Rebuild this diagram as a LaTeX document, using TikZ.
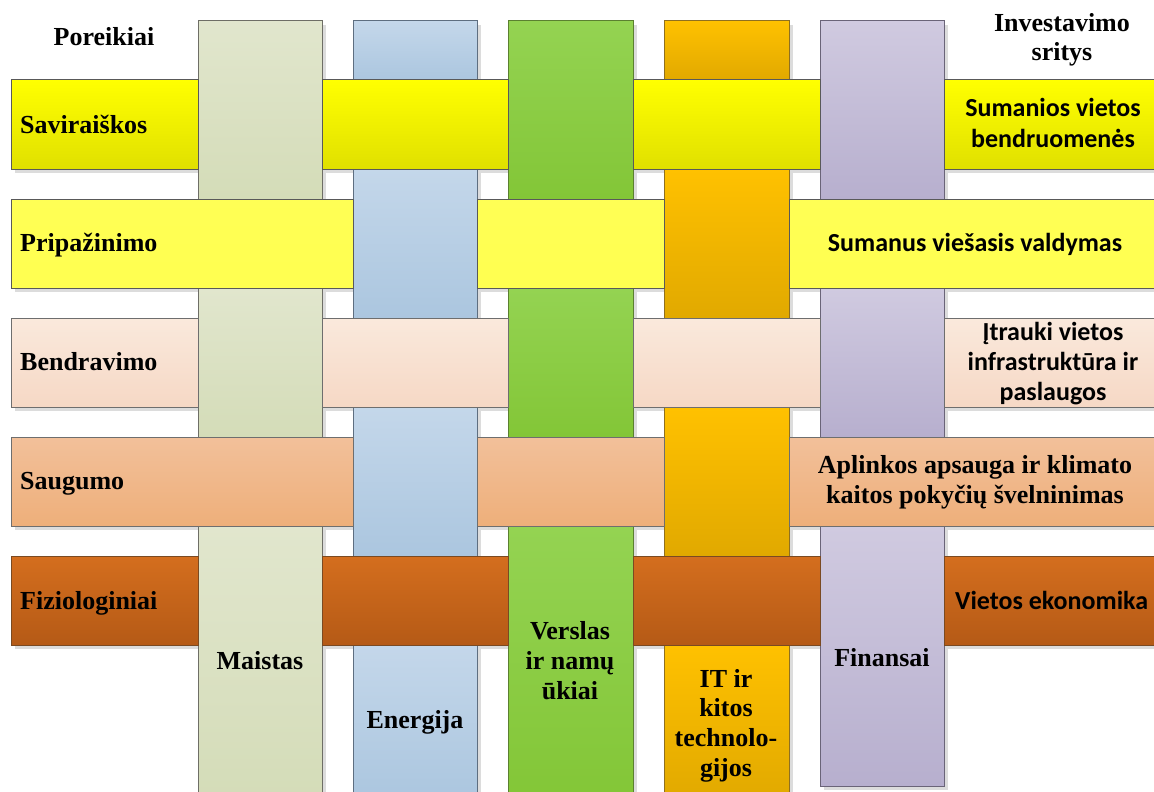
\documentclass[tikz,border=0pt]{standalone}
\usepackage{fontspec}
\setmainfont{Liberation Serif}
\newfontfamily\calibri{Carlito}
% row colours: T=top, D=bottom, B=border
\definecolor{r1T}{HTML}{FFFF00}\definecolor{r1D}{HTML}{E0E000}\definecolor{r1B}{HTML}{595959}
\definecolor{r2T}{HTML}{FFFF55}\definecolor{r2D}{HTML}{FFFF50}\definecolor{r2B}{HTML}{595959}
\definecolor{r3T}{HTML}{FAE9DC}\definecolor{r3D}{HTML}{F6D8C5}\definecolor{r3B}{HTML}{6E6E6E}
\definecolor{r4T}{HTML}{F2C09A}\definecolor{r4D}{HTML}{EEAF7A}\definecolor{r4B}{HTML}{6E6E6E}
\definecolor{r5T}{HTML}{D46E1E}\definecolor{r5D}{HTML}{B55A16}\definecolor{r5B}{HTML}{7A4A22}
% column colours
\definecolor{c1T}{HTML}{E1E6CD}\definecolor{c1D}{HTML}{D4DCB8}\definecolor{c1B}{HTML}{6E6E66}
\definecolor{c2T}{HTML}{C4D7EA}\definecolor{c2D}{HTML}{ABC6DF}\definecolor{c2B}{HTML}{5E6E80}
\definecolor{c3T}{HTML}{94D352}\definecolor{c3D}{HTML}{83C637}\definecolor{c3B}{HTML}{5B8030}
\definecolor{c4T}{HTML}{FFC100}\definecolor{c4D}{HTML}{E1A900}\definecolor{c4B}{HTML}{8F7020}
\definecolor{c5T}{HTML}{D0CAE0}\definecolor{c5D}{HTML}{B7AFCE}\definecolor{c5B}{HTML}{6A6478}
\definecolor{shad}{HTML}{DCDCDC}

\newcommand\wshadow[5]{\fill[shad] (#2+4,#3+4) rectangle (#4+4,#5+4);}
\newcommand\wpiece[5]{\draw[draw=#1B, line width=1pt, top color=#1T, bottom color=#1D] (#2,#3) rectangle (#4,#5);}
% every visible piece of the weave: colour key, x1, y1, x2, y2
\newcommand\allpieces{%
  % columns (visible segments)
  \wp{c1}{198}{21}{322}{199}\wp{c1}{198}{288}{322}{437}\wp{c1}{198}{526}{322}{800}%
  \wp{c3}{508}{21}{633}{199}\wp{c3}{508}{288}{633}{437}\wp{c3}{508}{526}{633}{800}%
  \wp{c5}{820}{21}{944}{199}\wp{c5}{820}{288}{944}{437}\wp{c5}{820}{526}{944}{786}%
  \wp{c2}{353}{21}{477}{80}\wp{c2}{353}{169}{477}{318}\wp{c2}{353}{407}{477}{556}\wp{c2}{353}{645}{477}{800}%
  \wp{c4}{664}{21}{789}{80}\wp{c4}{664}{169}{789}{318}\wp{c4}{664}{407}{789}{556}\wp{c4}{664}{645}{789}{800}%
  % rows (visible segments)
  \wp{r1}{11}{80}{198}{169}\wp{r1}{322}{80}{508}{169}\wp{r1}{633}{80}{820}{169}\wp{r1}{944}{80}{1170}{169}%
  \wp{r2}{11}{199}{353}{288}\wp{r2}{477}{199}{664}{288}\wp{r2}{789}{199}{1170}{288}%
  \wp{r3}{11}{318}{198}{407}\wp{r3}{322}{318}{508}{407}\wp{r3}{633}{318}{820}{407}\wp{r3}{944}{318}{1170}{407}%
  \wp{r4}{11}{437}{353}{526}\wp{r4}{477}{437}{664}{526}\wp{r4}{789}{437}{1170}{526}%
  \wp{r5}{11}{556}{198}{645}\wp{r5}{322}{556}{508}{645}\wp{r5}{633}{556}{820}{645}\wp{r5}{944}{556}{1170}{645}%
}

\begin{document}
\begin{tikzpicture}[x=1pt,y=-1pt,
  ser/.style={font=\fontsize{26}{30}\selectfont\bfseries, inner sep=0pt},
  san/.style={font=\calibri\fontsize{26}{30}\selectfont\bfseries, inner sep=0pt}]
\useasboundingbox (0,0) rectangle (1154,792);
\clip (0,0) rectangle (1154,792);
\fill[white] (0,0) rectangle (1154,792);
\let\wp\wshadow \allpieces
\let\wp\wpiece \allpieces

% headings
\node[ser, anchor=base] (por) at (104,46) {Poreikiai};
\node[ser, anchor=base] (inv1) at (1062,32) {Investavimo};
\node[ser, anchor=base] (inv2) at (1062,61) {sritys};
% needs
\node[ser, anchor=base west] (sav) at (20,133) {Saviraiškos};
\node[ser, anchor=base west] (pri) at (20,251) {Pripažinimo};
\node[ser, anchor=base west] (ben) at (20,370) {Bendravimo};
\node[ser, anchor=base west] (sau) at (20,489) {Saugumo};
\node[ser, anchor=base west] (fiz) at (20,609) {Fiziologiniai};
% investment areas
\node[san, anchor=base] (sum1) at (1053,117) {Sumanios vietos};
\node[san, anchor=base] (sum2) at (1053,147) {bendruomenės};
\node[san, anchor=base] (svv) at (975,251) {Sumanus viešasis valdymas};
\node[san, anchor=base] (itr1) at (1053,340) {Įtrauki vietos};
\node[san, anchor=base] (itr2) at (1053,370) {infrastruktūra ir};
\node[san, anchor=base] (itr3) at (1053,400) {paslaugos};
\node[ser, anchor=base] (apl1) at (975,473) {Aplinkos apsauga ir klimato};
\node[ser, anchor=base] (apl2) at (975,503) {kaitos pokyčių švelninimas};
\node[san, anchor=base west] (vek) at (955,609) {Vietos ekonomika};
% columns
\node[ser, anchor=base] (mai) at (260,669) {Maistas};
\node[ser, anchor=base] (ene) at (415,728) {Energija};
\node[ser, anchor=base] (ver1) at (570,639) {Verslas};
\node[ser, anchor=base] (ver2) at (570,669) {ir namų};
\node[ser, anchor=base] (ver3) at (570,699) {ūkiai};
\node[ser, anchor=base] (it1) at (726,687) {IT ir};
\node[ser, anchor=base] (it2) at (726,716) {kitos};
\node[ser, anchor=base] (it3) at (726,746) {technolo-};
\node[ser, anchor=base] (it4) at (726,776) {gijos};
\node[ser, anchor=base] (fin) at (882,666) {Finansai};
\end{tikzpicture}
\end{document}
